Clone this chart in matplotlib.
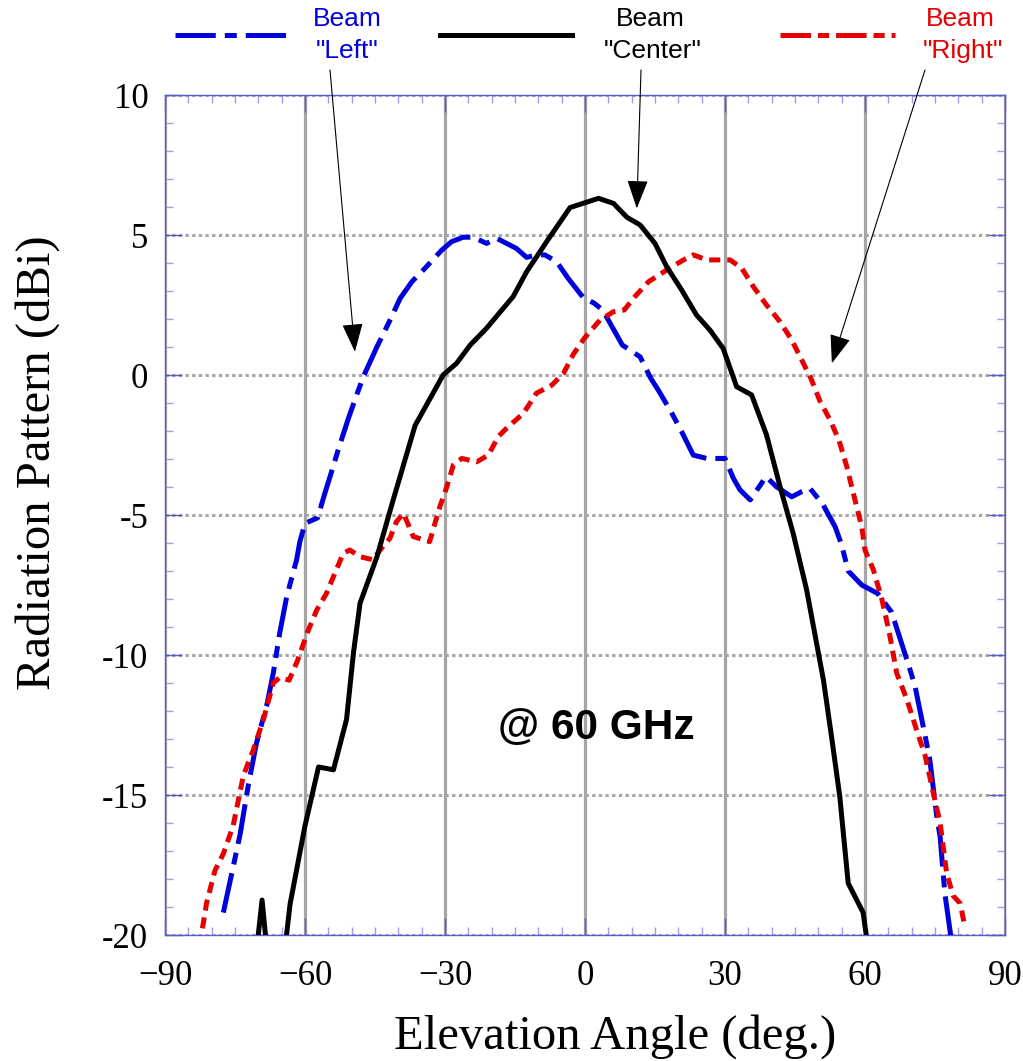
import matplotlib
matplotlib.use("Agg")
import matplotlib.pyplot as plt
from matplotlib.lines import Line2D
from matplotlib.ticker import MultipleLocator

plt.rcParams['lines.scale_dashes'] = False

# ---- data ----
center_x = [-71.0, -69.2, -67.6, -65.0, -63.2, -60.0, -57.1, -53.9, -51.1, -49.6,
            -48.2, -44.6, -41.1, -36.4, -30.4, -27.5, -24.6, -21.1, -15.4, -12.5,
            -7.5, -3.2, 2.9, 6.1, 9.0, 11.8, 15.0, 17.5, 20.7, 23.9,
            26.8, 29.6, 32.5, 35.7, 38.9, 41.8, 44.6, 47.5, 51.1, 52.9,
            54.6, 56.4, 59.6, 60.6]
center_y = [-21.5, -18.75, -21.5, -21.5, -18.9, -16.1, -14.0, -14.1, -12.3, -9.9,
            -8.15, -6.5, -4.46, -1.8, 0.0, 0.42, 1.07, 1.67, 2.8, 3.69,
            4.94, 5.98, 6.31, 6.13, 5.63, 5.36, 4.7, 3.87, 3.04, 2.14,
            1.6, 0.95, -0.42, -0.71, -2.14, -3.99, -5.65, -7.68, -10.9, -13.0,
            -15.06, -18.15, -19.2, -20.4]

left_x = [-77.5, -75.0, -73.9, -72.1, -70.4, -68.2, -66.8, -65.4, -63.9, -61.8,
          -61.1, -60.0, -57.3, -55.7, -54.3, -52.9, -50.7, -48.9, -47.5, -44.6,
          -42.1, -39.6, -37.1, -34.3, -30.7, -28.6, -26.1, -23.9, -21.1, -18.9,
          -14.7, -12.5, -10.4, -8.6, -6.1, -3.6, -0.4, 2.0, 3.8, 8.0,
          11.8, 14.1, 15.7, 18.4, 20.7, 23.2, 26.1, 30.0, 31.8, 33.2,
          35.4, 38.8, 41.0, 44.3, 46.4, 48.2, 50.9, 53.6, 55.0, 56.4,
          59.3, 62.7, 65.7, 69.6, 70.7, 73.2, 73.9, 75.4, 76.1, 77.1,
          78.6]
left_y = [-19.2, -17.26, -16.4, -14.6, -13.15, -11.8, -10.65, -9.2, -7.9, -6.6,
          -5.95, -5.3, -5.1, -4.2, -3.45, -2.68, -1.55, -0.7, -0.06, 1.0,
          1.85, 2.74, 3.33, 3.81, 4.46, 4.76, 4.92, 4.92, 4.7, 4.88,
          4.52, 4.2, 4.29, 4.29, 4.05, 3.45, 2.77, 2.56, 2.32, 1.07,
          0.65, -0.12, -0.54, -1.3, -2.02, -2.86, -2.98, -2.98, -3.69, -4.1,
          -4.46, -3.63, -3.99, -4.35, -4.17, -4.05, -4.6, -5.42, -6.07, -7.0,
          -7.5, -7.8, -8.47, -10.5, -11.1, -13.15, -13.75, -15.8, -16.5, -18.5,
          -20.3]

right_x = [-82.6, -81.1, -79.3, -77.5, -75.4, -73.2, -71.1, -68.9, -66.8, -65.4,
           -63.4, -61.6, -59.5, -57.5, -55.4, -53.9, -51.8, -50.4, -48.2, -45.4,
           -43.9, -41.8, -40.4, -38.9, -36.8, -33.3, -31.1, -29.6, -28.2, -26.4,
           -23.2, -20.7, -18.6, -16.8, -13.2, -10.4, -7.1, -4.6, -2.5, -0.2,
           3.2, 6.1, 8.4, 10.7, 13.6, 17.5, 21.1, 23.2, 26.1, 31.1,
           33.6, 36.1, 38.9, 41.8, 44.3, 46.1, 48.4, 50.4, 52.5, 54.4,
           56.1, 57.5, 59.3, 60.0, 61.8, 63.6, 65.2, 66.8, 69.0, 71.1,
           72.9, 74.6, 76.1, 77.5, 78.9, 80.4, 81.4]
right_y = [-20.4, -18.87, -17.7, -17.1, -16.1, -14.3, -13.4, -12.3, -11.0, -10.8,
           -10.9, -10.2, -9.2, -8.4, -7.8, -7.2, -6.37, -6.25, -6.49, -6.6,
           -6.25, -5.83, -5.24, -4.94, -5.77, -5.95, -4.7, -3.99, -3.21, -2.98,
           -3.1, -2.86, -2.2, -1.9, -1.37, -0.65, -0.36, 0.06, 0.74, 1.3,
           1.96, 2.26, 2.32, 2.8, 3.33, 3.75, 4.11, 4.29, 4.11, 4.11,
           3.81, 3.15, 2.5, 1.9, 1.25, 0.65, -0.12, -0.95, -1.6, -2.32,
           -3.27, -4.23, -5.42, -6.25, -6.96, -8.0, -9.2, -10.65, -11.6, -12.7,
           -13.6, -14.9, -16.0, -17.8, -18.6, -18.87, -19.7]

x_ticks = [-90, -60, -30, 0, 30, 60, 90]
x_tick_labels = ['\u221290', '\u221260', '\u221230', '0', '30', '60', '90']
y_ticks = [-20, -15, -10, -5, 0, 5, 10]
y_tick_labels = ['-20', '-15', '-10', '-5', '0', '5', '10']

BLUE = '#0000dd'
RED = '#e60000'
FRAME = '#5a5acf'
blue_dash = (0, (29, 6.5, 8.6, 6.5))
red_dash = (0, (8.0, 5.0))

fig = plt.figure(figsize=(10.23, 10.61), dpi=100)
ax = fig.add_axes([165/1023, 1-935/1061, 840/1023, 840/1061])
ax.set_xlim(-90, 90)
ax.set_ylim(-20, 10)

# grid
for gx in x_ticks:
    ax.axvline(gx, color='#a6a6a6', lw=2.3, zorder=1)
for gy in y_ticks:
    ax.axhline(gy, color='#a6a6a6', lw=2.2, ls=(0, (2.4, 2.4)), zorder=1)

lw = 3.6
ax.plot(left_x, left_y, color=BLUE, lw=lw, ls=blue_dash, zorder=3)
ax.plot(right_x, right_y, color=RED, lw=lw, ls=red_dash, zorder=3)
ax.plot(center_x, center_y, color='black', lw=lw, zorder=4)

# ticks & frame
ax.set_xticks(x_ticks)
ax.set_xticklabels(x_tick_labels)
ax.set_yticks(y_ticks)
ax.set_yticklabels(y_tick_labels)
ax.xaxis.set_minor_locator(MultipleLocator(5))
ax.yaxis.set_minor_locator(MultipleLocator(1))
ax.tick_params(which='both', direction='in', top=True, right=True, color=FRAME)
ax.tick_params(which='major', length=12, width=1.0, labelsize=25)
ax.tick_params(axis='x', which='major', pad=18)
ax.tick_params(axis='y', which='major', pad=12)
ax.tick_params(which='minor', length=6, width=1.0, color='#9c9ce8')
for lab in ax.get_xticklabels() + ax.get_yticklabels():
    lab.set_family('Liberation Serif')
for sp in ax.spines.values():
    sp.set_color(FRAME)
    sp.set_linewidth(1.0)

fig.text(615/1023, 1-1037/1061, 'Elevation Angle (deg.)', family='Liberation Serif',
         fontsize=35, ha='center', va='center')
fig.text(38/1023, 1-463/1061, 'Radiation Pattern (dBi)', family='Liberation Serif',
         fontsize=35, ha='center', va='center', rotation=90)

ax.text((596-165)/840, 1-(728-95)/840, '@ 60 GHz', transform=ax.transAxes,
        ha='center', va='center', fontsize=30.5, fontweight='bold', family='Liberation Sans')

# legend-like header
ly = 1 - 35/1061
fig.add_artist(Line2D([175/1023, 287/1023], [ly, ly], color=BLUE, lw=lw, ls=blue_dash))
fig.add_artist(Line2D([440/1023, 572/1023], [ly, ly], color='black', lw=lw))
fig.add_artist(Line2D([780/1023, 895/1023], [ly, ly], color=RED, lw=lw, ls=(0, (22, 5, 8, 5))))

tkw = dict(ha='center', va='center', fontsize=19, family='Liberation Sans')
fig.text(347/1023, 1-19/1061, 'Beam', color=BLUE, **tkw)
fig.text(347/1023, 1-51/1061, '"Left"', color=BLUE, **tkw)
fig.text(650/1023, 1-19/1061, 'Beam', color='black', **tkw)
fig.text(653/1023, 1-51/1061, '"Center"', color='black', **tkw)
fig.text(960/1023, 1-19/1061, 'Beam', color=RED, **tkw)
fig.text(963/1023, 1-51/1061, '"Right"', color=RED, **tkw)

arrow = dict(arrowstyle='-|>,head_length=0.9,head_width=0.33', color='black',
             lw=0.8, mutation_scale=20, shrinkA=0, shrinkB=0)
ax.annotate('', xy=(-49.3, 0.83), xytext=(330/1023, 1-70/1061),
            textcoords='figure fraction', arrowprops=arrow)
ax.annotate('', xy=(11.1, 5.95), xytext=(641/1023, 1-70/1061),
            textcoords='figure fraction', arrowprops=arrow)
ax.annotate('', xy=(52.9, 0.42), xytext=(925/1023, 1-70/1061),
            textcoords='figure fraction', arrowprops=arrow)

fig.savefig('out.png', dpi=100)
